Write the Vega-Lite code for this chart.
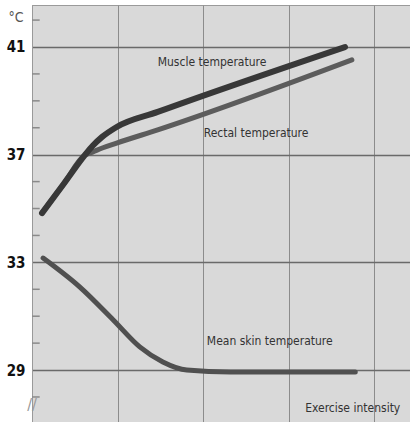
{
  "$schema": "https://vega.github.io/schema/vega-lite/v6.json",
  "width": 378,
  "height": 417,
  "autosize": "none",
  "padding": {"left": 32, "top": 5, "right": 0, "bottom": 0},
  "background": "white",
  "config": {
    "view": {"fill": "#d9d9d9", "stroke": "#9a9a9a", "strokeWidth": 1},
    "font": "DejaVu Sans Condensed"
  },
  "datasets": {
    "lines": [
      {"series": "Muscle", "x": 0.117, "t": 34.83},
      {"series": "Muscle", "x": 0.37, "t": 35.91},
      {"series": "Muscle", "x": 0.62, "t": 36.99},
      {"series": "Muscle", "x": 0.71, "t": 37.33},
      {"series": "Muscle", "x": 0.82, "t": 37.66},
      {"series": "Muscle", "x": 0.99, "t": 38.03},
      {"series": "Muscle", "x": 1.47, "t": 38.59},
      {"series": "Muscle", "x": 3.66, "t": 41.0},
      {"series": "Rectal", "x": 0.117, "t": 34.83},
      {"series": "Rectal", "x": 0.37, "t": 35.91},
      {"series": "Rectal", "x": 0.62, "t": 36.99},
      {"series": "Rectal", "x": 0.69, "t": 37.07},
      {"series": "Rectal", "x": 0.76, "t": 37.17},
      {"series": "Rectal", "x": 0.99, "t": 37.43},
      {"series": "Rectal", "x": 1.47, "t": 37.92},
      {"series": "Rectal", "x": 3.74, "t": 40.52},
      {"series": "Skin", "x": 0.13, "t": 33.16},
      {"series": "Skin", "x": 0.56, "t": 32.08},
      {"series": "Skin", "x": 0.95, "t": 30.86},
      {"series": "Skin", "x": 1.26, "t": 29.86},
      {"series": "Skin", "x": 1.53, "t": 29.3},
      {"series": "Skin", "x": 1.81, "t": 29.0},
      {"series": "Skin", "x": 2.32, "t": 28.93},
      {"series": "Skin", "x": 3.78, "t": 28.93}
    ],
    "minor": [
      {"t": 28}, {"t": 30}, {"t": 31}, {"t": 32}, {"t": 34}, {"t": 35}, {"t": 36},
      {"t": 38}, {"t": 39}, {"t": 40}, {"t": 42}
    ],
    "labels": [
      {"x": 2.105, "t": 40.44, "text": "Muscle temperature"},
      {"x": 2.62, "t": 37.81, "text": "Rectal temperature"},
      {"x": 2.78, "t": 30.08, "text": "Mean skin temperature"},
      {"x": 3.75, "t": 27.59, "text": "Exercise intensity"}
    ],
    "breaks": [
      {"x": 0.0, "t": 27.7, "text": "//"}
    ]
  },
  "layer": [
    {
      "data": {"name": "lines"},
      "transform": [{"filter": "datum.series == 'Skin'"}],
      "mark": {"type": "line", "interpolate": "monotone", "strokeCap": "round", "color": "#505050", "strokeWidth": 5},
      "encoding": {
        "x": {
          "field": "x", "type": "quantitative",
          "scale": {"domain": [0, 4.42], "nice": false, "zero": false},
          "axis": {"values": [0, 1, 2, 3, 4], "grid": true, "gridColor": "#8c8c8c", "gridWidth": 1, "labels": false, "ticks": false, "domain": false, "title": null}
        },
        "y": {
          "field": "t", "type": "quantitative",
          "scale": {"domain": [27.07, 42.56], "nice": false, "zero": false},
          "axis": {
            "values": [29, 33, 37, 41],
            "grid": true,
            "gridColor": "#6a6a6a",
            "gridWidth": 1.5,
            "ticks": false,
            "domain": true,
            "domainColor": "#9a9a9a",
            "labelFont": "DejaVu Sans Condensed",
            "labelFontSize": 15,
            "labelFontWeight": "bold",
            "labelColor": "#111111",
            "labelPadding": 7,
            "title": "°C",
            "titleAngle": 0,
            "titleX": -24,
            "titleY": 19,
            "titleAlign": "left",
            "titleFont": "DejaVu Sans Condensed",
            "titleFontSize": 14,
            "titleColor": "#555555",
            "titleFontWeight": "normal"
          }
        }
      }
    },
    {
      "data": {"name": "minor"},
      "mark": {"type": "rule", "color": "#8a8a8a", "strokeWidth": 1.5},
      "encoding": {
        "y": {"field": "t", "type": "quantitative"},
        "x": {"datum": 0},
        "x2": {"datum": 0.09}
      }
    },
    {
      "data": {"name": "lines"},
      "transform": [{"filter": "datum.series == 'Rectal'"}],
      "mark": {"type": "line", "interpolate": "monotone", "strokeCap": "round", "color": "#5c5c5c", "strokeWidth": 5},
      "encoding": {
        "x": {"field": "x", "type": "quantitative"},
        "y": {"field": "t", "type": "quantitative"}
      }
    },
    {
      "data": {"name": "lines"},
      "transform": [{"filter": "datum.series == 'Muscle'"}],
      "mark": {"type": "line", "interpolate": "monotone", "strokeCap": "round", "color": "#383838", "strokeWidth": 6},
      "encoding": {
        "x": {"field": "x", "type": "quantitative"},
        "y": {"field": "t", "type": "quantitative"}
      }
    },
    {
      "data": {"name": "labels"},
      "mark": {"type": "text", "font": "DejaVu Sans Condensed", "fontSize": 12, "color": "#333333", "align": "center", "baseline": "middle"},
      "encoding": {
        "x": {"field": "x", "type": "quantitative"},
        "y": {"field": "t", "type": "quantitative"},
        "text": {"field": "text"}
      }
    },
    {
      "data": {"name": "breaks"},
      "mark": {"type": "text", "font": "DejaVu Sans Condensed", "fontSize": 16, "color": "#999999", "align": "center", "baseline": "middle"},
      "encoding": {
        "x": {"field": "x", "type": "quantitative"},
        "y": {"field": "t", "type": "quantitative"},
        "text": {"field": "text"}
      }
    }
  ]
}
